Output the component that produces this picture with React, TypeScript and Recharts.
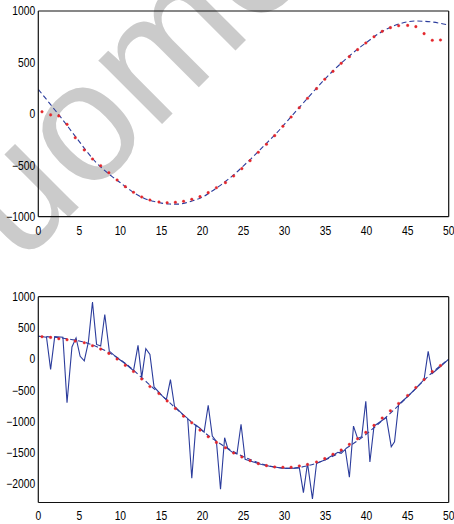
import React from "react";
import { ComposedChart, Line, XAxis, YAxis } from "recharts";

// ticks
const xTicks = [0, 5, 10, 15, 20, 25, 30, 35, 40, 45, 50];
const topYTicks = [-1000, -500, 0, 500, 1000];
const bottomYTicks = [-2000, -1500, -1000, -500, 0, 500, 1000];

// red sample points (same x positions in both panels)
const dotX = [
  0.45, 1.5, 2.5, 3.5, 4.5, 5.6, 6.6, 7.6, 8.6, 9.6, 10.6, 11.6, 12.6, 13.6, 14.7, 15.7, 16.7, 17.7,
  18.7, 19.7, 20.7, 21.7, 22.8, 23.8, 24.8, 25.8, 26.8, 27.8, 28.8, 29.8, 30.8, 31.8, 32.8, 33.9,
  34.9, 35.9, 36.9, 37.9, 38.9, 39.9, 40.9, 41.9, 42.9, 43.9, 45.0, 46.0, 47.0, 48.0, 49.0,
];
const topDotY = [
  20, -10, -20, -102, -232, -351, -439, -504, -572, -643, -708, -763, -808, -838, -857, -864, -860,
  -850, -831, -805, -766, -718, -669, -604, -533, -455, -374, -296, -212, -121, -31, 60, 151, 245,
  336, 413, 491, 556, 624, 689, 750, 802, 838, 857, 860, 848, 780, 715, 718,
];
const bottomDotY = [
  358, 347, 326, 310, 288, 262, 214, 160, 91, 0, -101, -199, -319, -441, -553, -671, -793, -915,
  -1022, -1139, -1246, -1336, -1422, -1506, -1570, -1629, -1677, -1709, -1730, -1735, -1735, -1714,
  -1690, -1650, -1597, -1527, -1459, -1368, -1278, -1176, -1064, -947, -830, -713, -585, -457, -329,
  -201, -105,
];

// dashed fitted curves
const curveX = [
  0, 1, 2, 3, 4, 5, 6, 7, 8, 9, 10, 11, 12, 13, 14, 15, 16, 17, 18, 19, 20, 21, 22, 23, 24, 25, 26,
  27, 28, 29, 30, 31, 32, 33, 34, 35, 36, 37, 38, 39, 40, 41, 42, 43, 44, 45, 46, 47, 48, 49, 50,
];
const topCurveY = [
  238, 140, 40, -60, -165, -270, -375, -470, -545, -610, -670, -730, -785, -825, -850, -868, -877,
  -878, -865, -840, -810, -760, -705, -645, -580, -505, -430, -350, -270, -190, -100, -10, 80, 170,
  260, 345, 425, 500, 570, 635, 695, 755, 805, 845, 875, 895, 903, 900, 893, 880, 862,
];
const bottomCurveY = [
  365, 360, 350, 335, 315, 290, 255, 205, 145, 75, -10, -110, -225, -345, -465, -580, -700, -820,
  -935, -1045, -1150, -1255, -1345, -1425, -1500, -1565, -1620, -1670, -1710, -1735, -1750, -1750,
  -1735, -1705, -1665, -1615, -1550, -1475, -1390, -1300, -1200, -1090, -975, -855, -730, -600, -470,
  -340, -215, -105, 0,
];

// noisy measurement (bottom panel)
const noisyX = [
  0, 1.0, 1.5, 2.0, 3.0, 3.5, 4.1, 4.6, 5.1, 5.6, 6.1, 6.6, 7.1, 7.6, 8.1, 8.65, 9.6, 10.6, 11.6,
  12.15, 12.6, 13.1, 13.6, 14.1, 15.1, 15.6, 16.1, 16.6, 17.7, 18.2, 18.7, 19.2, 19.7, 20.2, 20.7,
  21.2, 21.7, 22.2, 22.7, 23.1, 23.7, 24.2, 24.7, 25.2, 26.2, 27.2, 28.2, 29.2, 30.2, 31.2, 31.8,
  32.3, 32.8, 33.4, 33.9, 34.9, 35.5, 36.1, 36.5, 36.9, 37.4, 37.9, 38.4, 38.9, 39.4, 39.9, 40.4,
  40.9, 42.4, 43.0, 43.4, 43.9, 45.0, 46.0, 47.0, 47.5, 48.0, 49.0, 50.0,
];
const noisyY = [
  365, 350, -165, 360, 350, -700, 195, 340, 45, -30, 272, 915, 235, 208, 715, 128, 20, -75, -185, 219,
  -297, 166, 75, -447, -590, -650, -330, -760, -900, -952, -1911, -1059, -1110, -1171, -740, -1235,
  -1320, -2087, -1262, -1440, -1500, -1522, -1045, -1607, -1650, -1690, -1720, -1740, -1752, -1750,
  -1741, -2141, -1671, -2241, -1671, -1620, -1570, -1527, -1495, -1511, -1448, -1895, -1075, -1272,
  -1246, -676, -1650, -1075, -936, -1405, -1326, -728, -600, -470, -329, 123, -230, -120, 0,
];

const pairs = (xs: number[], ys: number[]) => xs.map((x, i) => ({ x, y: ys[i] }));

const BLUE = "#2b3c9c";
const RED = "#e3262b";
const FONT = "'Liberation Sans', Arial, sans-serif";

const fmt = (v: number) => (v < 0 ? "\u2212" + Math.abs(v) : String(v));

// narrow tick labels (MATLAB style)
const XTick = (p: any) => (
  <text x={p.x} y={p.y} dy={10} textAnchor="middle" fontFamily={FONT} fontSize={12} fill="#000"
    transform={`translate(${p.x} 0) scale(0.86 1) translate(${-p.x} 0)`}>
    {fmt(p.payload.value)}
  </text>
);
const YTick = (p: any) => (
  <text x={p.x} y={p.y} dy={4.3} textAnchor="end" fontFamily={FONT} fontSize={12} fill="#000"
    transform={`translate(${p.x} 0) scale(0.86 1) translate(${-p.x} 0)`}>
    {fmt(p.payload.value)}
  </text>
);

type PanelProps = {
  top: number;
  height: number;
  margin: { top: number; right: number; bottom: number; left: number };
  yDomain: [number, number];
  yTicks: number[];
  children: React.ReactNode;
};

const Panel = ({ top, height, margin, yDomain, yTicks, children }: PanelProps) => {
  const inner = { stroke: "#333", strokeWidth: 1 };
  const frame = { stroke: "#111", strokeWidth: 1.2 };
  return (
    <div style={{ position: "absolute", left: 0, top }}>
      <ComposedChart width={454} height={height} margin={margin}>
        <XAxis xAxisId="b" type="number" dataKey="x" domain={[0, 50]} ticks={xTicks} interval={0}
          tickLine={false} tickSize={0} tickMargin={8} height={20} axisLine={frame} tick={<XTick />} />
        <XAxis xAxisId="bm" type="number" domain={[0, 50]} ticks={xTicks} interval={0} mirror
          tick={false} tickSize={4} axisLine={false} tickLine={inner} />
        <XAxis xAxisId="t" type="number" orientation="top" domain={[0, 50]} ticks={xTicks} interval={0}
          mirror tick={false} tickSize={4} axisLine={frame} tickLine={inner} />
        <YAxis yAxisId="l" type="number" domain={yDomain} ticks={yTicks} interval={0} width={38}
          tickLine={false} tickSize={0} tickMargin={3} axisLine={frame} tick={<YTick />} />
        <YAxis yAxisId="lm" type="number" domain={yDomain} ticks={yTicks} interval={0} mirror
          tick={false} tickSize={4} axisLine={false} tickLine={inner} />
        <YAxis yAxisId="r" type="number" orientation="right" domain={yDomain} ticks={yTicks} interval={0}
          mirror tick={false} tickSize={4} axisLine={frame} tickLine={inner} />
        {children}
      </ComposedChart>
    </div>
  );
};

export default function App() {
  return (
    <div style={{ position: "absolute", left: 0, top: 0, width: 454, height: 524, background: "#fff", overflow: "hidden" }}>
      <svg width={454} height={524} style={{ position: "absolute", left: 0, top: 0 }}>
        <text x={20} y={266} fontSize={170} fill="#cbcbcb" fontFamily={FONT}
          transform="rotate(-45 20 266)">uome</text>
      </svg>
      <Panel top={0} height={240} margin={{ top: 11, right: 5.3, bottom: 3.3, left: 0.3 }}
        yDomain={[-1000, 1000]} yTicks={topYTicks}>
        <Line xAxisId="b" yAxisId="l" data={pairs(curveX, topCurveY)} dataKey="y" type="monotone"
          stroke={BLUE} strokeWidth={1.1} strokeDasharray="5 3" dot={false} activeDot={false}
          isAnimationActive={false} />
        <Line xAxisId="b" yAxisId="l" data={pairs(dotX, topDotY)} dataKey="y" stroke="none"
          dot={{ r: 1.3, fill: RED, stroke: RED, strokeWidth: 0.4 }} activeDot={false}
          isAnimationActive={false} />
      </Panel>
      <Panel top={280} height={244} margin={{ top: 16.7, right: 5.3, bottom: 1.5, left: 0.3 }}
        yDomain={[-2300, 1000]} yTicks={bottomYTicks}>
        <Line xAxisId="b" yAxisId="l" data={pairs(noisyX, noisyY)} dataKey="y" type="linear"
          stroke={BLUE} strokeWidth={1.1} dot={false} activeDot={false} isAnimationActive={false} />
        <Line xAxisId="b" yAxisId="l" data={pairs(curveX, bottomCurveY)} dataKey="y" type="monotone"
          stroke={BLUE} strokeWidth={1.1} strokeDasharray="5 3" dot={false} activeDot={false}
          isAnimationActive={false} />
        <Line xAxisId="b" yAxisId="l" data={pairs(dotX, bottomDotY)} dataKey="y" stroke="none"
          dot={{ r: 1.3, fill: RED, stroke: RED, strokeWidth: 0.4 }} activeDot={false}
          isAnimationActive={false} />
      </Panel>
    </div>
  );
}
